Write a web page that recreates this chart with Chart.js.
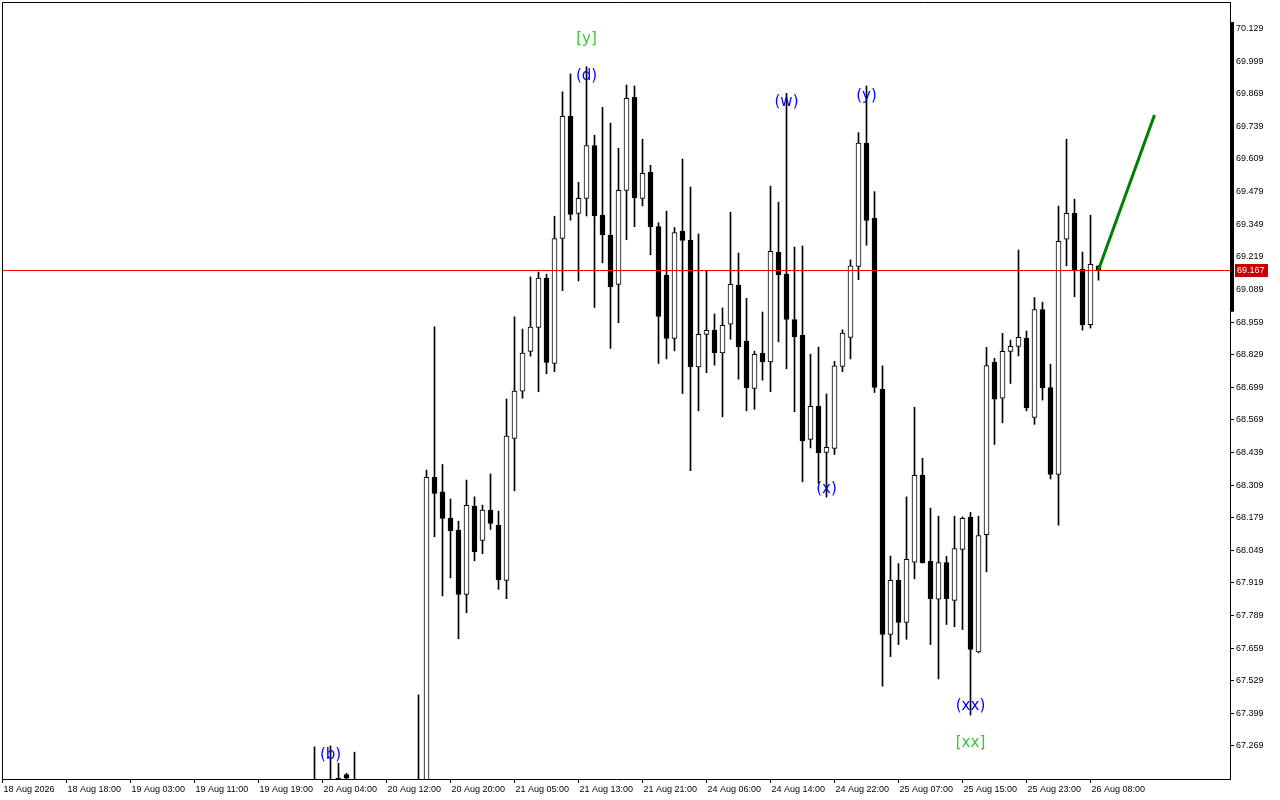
<!DOCTYPE html>
<html>
<head>
<meta charset="utf-8">
<script src="https://cdn.jsdelivr.net/npm/chart.js@4.4.0/dist/chart.umd.min.js"></script>
<style>
  html, body { margin: 0; padding: 0; background: #fff; }
  canvas { display: block; }
</style>
</head>
<body>
<canvas id="priceChart" width="1280" height="800"></canvas>
<script>
// H1 bars, index 0 = 18 Aug 2026 00:00 (bars not listed are below the visible range)
const opens = [
  null, null, null, null, null, null, null, null, null, null,
  null, null, null, null, null, null, null, null, null, null,
  null, null, null, null, null, null, null, null, null, null,
  null, null, null, null, null, null, null, null, null,
  67.05, null, 67.08, 67.140, 67.155, 67.10, null, null, null, null, null, null, null,
  67.05, 67.10, 68.340, 68.282, 68.177, 68.129, 67.873, 68.225, 68.088, 68.209,
  68.149, 67.929, 68.495, 68.683, 68.842, 68.938, 69.134, 68.794, 69.292, 69.779,
  69.392, 69.452, 69.663, 69.385, 69.306, 69.109, 69.484, 69.855, 69.452, 69.556,
  69.340, 69.145, 68.894, 69.322, 69.286, 68.780, 68.910, 68.927, 68.836, 68.950,
  69.106, 68.883, 68.694, 68.834, 68.800, 69.237, 69.150, 68.969, 68.906, 68.491,
  68.623, 68.439, 68.455, 68.782, 68.898, 69.181, 69.672, 69.372, 68.691, 67.713,
  67.929, 67.761, 68.002, 68.348, 68.005, 67.854, 68.000, 67.849, 68.052, 68.180,
  67.644, 68.111, 68.798, 68.655, 68.842, 68.862, 68.894, 68.579, 69.009, 68.698,
  68.351, 69.289, 69.392, 69.169, 68.948, 69.182
];
const highs = [
  null, null, null, null, null, null, null, null, null, null,
  null, null, null, null, null, null, null, null, null, null,
  null, null, null, null, null, null, null, null, null, null,
  null, null, null, null, null, null, null, null, null,
  67.265, null, 67.269, 67.200, 67.160, 67.244, null, null, null, null, null, null, null,
  67.472, 68.369, 68.940, 68.391, 68.253, 68.165, 68.329, 68.262, 68.229, 68.353,
  68.205, 68.652, 68.980, 68.931, 69.139, 69.158, 69.150, 69.381, 69.877, 69.948,
  69.516, 69.977, 69.704, 69.815, 69.752, 69.652, 69.904, 69.900, 69.688, 69.584,
  69.355, 69.401, 69.336, 69.609, 69.497, 69.310, 69.163, 68.991, 69.015, 69.397,
  69.234, 69.054, 68.843, 68.999, 69.501, 69.437, 69.871, 69.258, 69.262, 68.831,
  68.859, 68.672, 68.802, 68.928, 69.207, 69.714, 69.900, 69.479, 68.784, 68.026,
  67.996, 68.262, 68.619, 68.416, 68.217, 68.185, 68.025, 68.185, 68.182, 68.200,
  68.185, 68.858, 68.814, 68.914, 68.887, 69.246, 68.923, 69.057, 69.038, 68.791,
  69.421, 69.688, 69.449, 69.238, 69.385, 69.185
];
const lows = [
  null, null, null, null, null, null, null, null, null, null,
  null, null, null, null, null, null, null, null, null, null,
  null, null, null, null, null, null, null, null, null, null,
  null, null, null, null, null, null, null, null, null,
  66.98, null, 67.00, 67.08, 67.09, 67.05, null, null, null, null, null, null, null,
  66.95, 67.05, 68.103, 67.867, 67.939, 67.696, 67.800, 68.007, 68.035, 68.132,
  67.893, 67.856, 68.286, 68.655, 68.823, 68.681, 68.753, 68.761, 69.084, 69.365,
  69.123, 69.382, 69.017, 69.195, 68.854, 68.956, 69.287, 69.339, 69.422, 69.227,
  68.794, 68.812, 68.844, 68.674, 68.366, 68.605, 68.757, 68.787, 68.581, 68.890,
  68.731, 68.605, 68.611, 68.727, 68.681, 68.880, 68.773, 68.601, 68.322, 68.457,
  68.316, 68.261, 68.431, 68.761, 68.812, 69.128, 69.265, 68.678, 67.507, 67.625,
  67.673, 67.694, 67.935, 67.998, 67.673, 67.536, 67.753, 67.744, 67.733, 67.392,
  67.640, 67.963, 68.471, 68.557, 68.714, 68.824, 68.605, 68.551, 68.648, 68.333,
  68.149, 69.183, 69.060, 68.927, 68.935, 69.126
];
const closes = [
  null, null, null, null, null, null, null, null, null, null,
  null, null, null, null, null, null, null, null, null, null,
  null, null, null, null, null, null, null, null, null, null,
  null, null, null, null, null, null, null, null, null,
  67.02, null, 67.04, 67.120, 67.140, 67.08, null, null, null, null, null, null, null,
  67.10, 68.340, 68.276, 68.176, 68.127, 67.873, 68.228, 68.043, 68.209, 68.156,
  67.931, 68.504, 68.684, 68.835, 68.939, 69.134, 68.798, 69.292, 69.779, 69.388,
  69.452, 69.663, 69.382, 69.307, 69.099, 69.484, 69.851, 69.454, 69.552, 69.339,
  68.981, 68.894, 69.316, 69.284, 68.780, 68.910, 68.926, 68.836, 68.946, 69.109,
  68.860, 68.697, 68.830, 68.800, 69.241, 69.147, 68.969, 68.900, 68.485, 68.623,
  68.438, 68.459, 68.784, 68.915, 69.183, 69.672, 69.364, 68.698, 67.713, 67.929,
  67.761, 68.013, 68.348, 67.999, 67.856, 68.000, 67.856, 68.056, 68.176, 67.654,
  68.108, 68.785, 68.651, 68.842, 68.862, 68.898, 68.617, 69.009, 68.697, 68.351,
  69.281, 69.392, 69.166, 68.948, 69.189, 69.167
];

// Time axis labels and the bar index each one sits on
const xTickLabels = [
  '18 Aug 2026', '18 Aug 18:00', '19 Aug 03:00', '19 Aug 11:00', '19 Aug 19:00', '20 Aug 04:00',
  '20 Aug 12:00', '20 Aug 20:00', '21 Aug 05:00', '21 Aug 13:00', '21 Aug 21:00', '24 Aug 06:00',
  '24 Aug 14:00', '24 Aug 22:00', '25 Aug 07:00', '25 Aug 15:00', '25 Aug 23:00', '26 Aug 08:00'
];
const xTickBars = [0, 8, 16, 24, 32, 40, 48, 56, 64, 72, 80, 88, 96, 104, 112, 120, 128, 136];

// Price axis labels
const yTickLabels = [
  67.269, 67.399, 67.529, 67.659, 67.789, 67.919, 68.049, 68.179, 68.309, 68.439, 68.569, 68.699,
  68.829, 68.959, 69.089, 69.219, 69.349, 69.479, 69.609, 69.739, 69.869, 69.999, 70.129
];

// Wave markup: text, bar index, price, level
const waveText = ['[y]', '(d)', '(w)', '(y)', '(x)', '(xx)', '[xx]', '(b)'];
const waveBars = [73, 73, 98, 108, 103, 121, 121, 41];
const wavePrices = [70.087, 69.939, 69.836, 69.860, 68.293, 67.428, 67.280, 67.232];
const waveLevel = ['major', 'minor', 'minor', 'minor', 'minor', 'minor', 'major', 'minor'];

// Forecast arrow (bar index, price)
const forecastBars = [137, 144];
const forecastPrices = [69.167, 69.784];

const currentPrice = 69.167;
const scaleMarkRange = [69.000, 70.155]; // dark marker on the price scale

// Build candle pieces
const barIdx = opens.map((_, i) => i).filter(i => opens[i] !== null);
const wickData = barIdx.map(i => ({ x: i, y: [lows[i], highs[i]] }));
const bodyData = barIdx.map(i => ({ x: i, y: [opens[i], closes[i]] }));
const forecastData = forecastBars.map((b, k) => ({ x: b, y: forecastPrices[k] }));

const waveColors = { major: '#32cd32', minor: '#0000ff' };

// Extra drawing: frame, price line, price tag, wave labels
const overlayPlugin = {
  id: 'overlay',
  afterDatasetsDraw(chart) {
    const { ctx, chartArea, scales } = chart;
    const x = scales.x;
    const y = scales.y;
    ctx.save();

    // current price line
    const py = Math.round(y.getPixelForValue(currentPrice)) + 0.5;
    ctx.strokeStyle = '#ff0000';
    ctx.lineWidth = 1;
    ctx.beginPath();
    ctx.moveTo(chartArea.left, py);
    ctx.lineTo(chartArea.right, py);
    ctx.stroke();

    // frame top / left
    ctx.strokeStyle = '#000';
    ctx.beginPath();
    ctx.moveTo(chartArea.left + 0.5, chartArea.bottom);
    ctx.lineTo(chartArea.left + 0.5, chartArea.top + 0.5);
    ctx.lineTo(chartArea.right, chartArea.top + 0.5);
    ctx.stroke();

    // wave labels
    ctx.font = '15px "DejaVu Sans"';
    ctx.textAlign = 'center';
    ctx.textBaseline = 'middle';
    waveText.forEach((t, k) => {
      ctx.fillStyle = waveColors[waveLevel[k]];
      ctx.fillText(t, x.getPixelForValue(waveBars[k]), y.getPixelForValue(wavePrices[k]));
    });
    ctx.restore();
  },
  afterDraw(chart) {
    const { ctx, chartArea, scales } = chart;
    const y = scales.y;
    ctx.save();

    // marker on the price scale
    const top = y.getPixelForValue(scaleMarkRange[1]);
    const bot = y.getPixelForValue(scaleMarkRange[0]);
    ctx.fillStyle = '#000';
    ctx.fillRect(chartArea.right + 1, top, 3, bot - top);

    // current price tag
    const py = Math.round(y.getPixelForValue(currentPrice));
    ctx.fillStyle = '#c80000';
    ctx.fillRect(chartArea.right + 5, py - 6, 33, 13);
    ctx.fillStyle = '#fff';
    ctx.font = '9px "Liberation Sans"';
    ctx.textAlign = 'left';
    ctx.textBaseline = 'middle';
    ctx.fillText(currentPrice.toFixed(3), chartArea.right + 7, py + 0.5);
    ctx.restore();
  }
};

const ctx = document.getElementById('priceChart').getContext('2d');
const chart = new Chart(ctx, {
  type: 'bar',
  data: {
    datasets: [
      {
        label: 'Body',
        data: bodyData,
        order: 1,
        grouped: false,
        barThickness: 5,
        minBarLength: 1,
        borderWidth: 1,
        borderSkipped: false,
        borderColor: '#000',
        backgroundColor: (c) => {
          const i = c.raw ? c.raw.x : 0;
          return closes[i] >= opens[i] ? '#fff' : '#000';
        }
      },
      {
        label: 'Wick',
        data: wickData,
        order: 2,
        grouped: false,
        barThickness: 1,
        borderWidth: 0,
        backgroundColor: '#000'
      },
      {
        type: 'line',
        label: 'Forecast',
        data: forecastData,
        order: 0,
        borderColor: '#008000',
        borderWidth: 3,
        pointRadius: 0,
        tension: 0
      }
    ]
  },
  options: {
    responsive: false,
    animation: false,
    layout: { padding: { left: 2, top: 2, right: 0, bottom: 0 } },
    plugins: {
      legend: { display: false },
      tooltip: { enabled: false }
    },
    scales: {
      x: {
        type: 'linear',
        position: 'bottom',
        offset: false,
        min: -0.0625,
        max: 153.4375,
        afterBuildTicks: (s) => { s.ticks = xTickBars.map(v => ({ value: v })); },
        afterFit: (s) => { s.height = 21; s.paddingLeft = 0; s.paddingRight = 0; },
        ticks: {
          autoSkip: false,
          maxRotation: 0,
          align: 'start',
          labelOffset: 1,
          padding: 1,
          color: '#000',
          font: { family: 'Liberation Sans', size: 9 },
          callback: (value, index) => xTickLabels[index]
        },
        grid: { offset: false, drawOnChartArea: false, drawTicks: true, tickLength: 4, color: '#000' },
        border: { color: '#000', width: 1 }
      },
      y: {
        type: 'linear',
        position: 'right',
        min: 67.137,
        max: 70.235,
        afterBuildTicks: (s) => { s.ticks = yTickLabels.map(v => ({ value: v })); },
        afterFit: (s) => { s.width = 50; s.paddingTop = 0; s.paddingBottom = 0; },
        ticks: {
          padding: 2,
          crossAlign: 'near',
          color: '#000',
          font: { family: 'Liberation Sans', size: 9 },
          callback: (value) => Number(value).toFixed(3)
        },
        grid: { drawOnChartArea: false, drawTicks: true, tickLength: 4, color: '#000' },
        border: { color: '#000', width: 1 }
      }
    }
  },
  plugins: [overlayPlugin]
});
</script>
</body>
</html>
